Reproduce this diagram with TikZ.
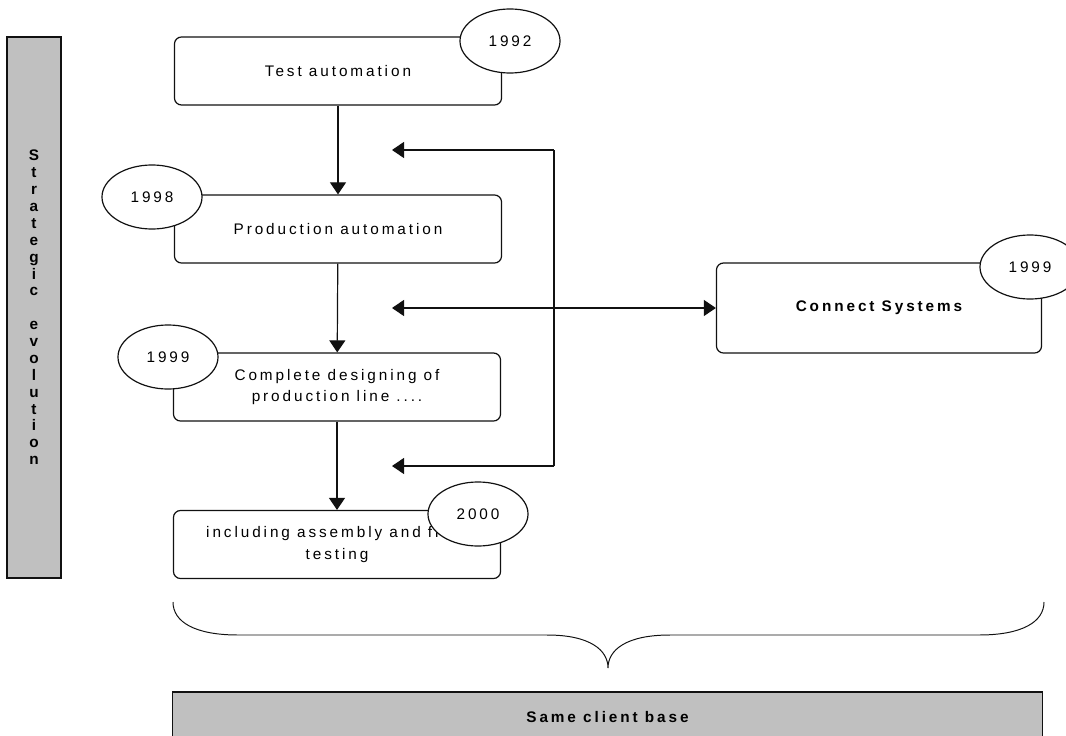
\documentclass[tikz,border=0pt]{standalone}
\usepackage{fontspec}
\setmainfont{Liberation Sans}[LetterSpace=19]
\usepackage{tikz}
\usetikzlibrary{arrows.meta,positioning,shapes.geometric}
\definecolor{bandgray}{HTML}{C0C0C0}
\definecolor{inkline}{HTML}{111111}

\begin{document}
\begin{tikzpicture}[
    x=0.025cm, y=-0.025cm,
    stage/.style={draw=inkline, line width=0.85pt, rounded corners=5pt, fill=white, minimum width=8.175cm, minimum height=1.7cm, align=center, font=\fontsize{10.9}{15}\selectfont},
    year/.style={draw=inkline, line width=0.85pt, ellipse, fill=white, minimum width=2.5cm, minimum height=1.6cm, inner sep=0pt, font=\fontsize{10.9}{13}\selectfont},
    band/.style={draw=inkline, line width=0.85pt, fill=bandgray, align=center, font=\bfseries\fontsize{10.9}{12}\selectfont},
    flow/.style={-{Triangle[length=0.3cm, width=0.4cm]}, line width=0.85pt, color=inkline},
    link/.style={line width=0.85pt, color=inkline}
]
\useasboundingbox (0,0) rectangle (1066,736);

% Side band
\node[band, minimum width=1.35cm, minimum height=13.525cm, inner sep=0pt] (side) at (34,307.5)
  {S\\t\\r\\a\\t\\e\\g\\i\\c\\[12pt]e\\v\\o\\l\\u\\t\\i\\o\\n};

% Stages
\node[stage] (test) at (338,71) {Test automation};
\node[stage] (prod) at (338,229) {Production automation};
\node[stage] (design) at (337,387) {Complete designing of\\production line ....};
\node[stage] (final) at (337,544.5) {including assembly and final\\testing};
\node[stage, minimum width=8.125cm, minimum height=2.25cm, font=\bfseries\fontsize{10.9}{15}\selectfont] (connect) at (879,308) {Connect Systems};

% Years
\node[year] (y92) at (510,41) {1992};
\node[year] (y98) at (152,197) {1998};
\node[year] (y99) at (168,357) {1999};
\node[year] (y00) at (478,514) {2000};
\node[year] (y99c) at (1030,267) {1999};

% Main flow
\draw[flow] (test) -- (prod);
\draw[flow] (prod) -- (design);
\draw[flow] (design) -- (final);

% Feedback loop
\coordinate (fbtop) at (392,150);
\coordinate (fbmid) at (392,308);
\coordinate (fbbot) at (392,466);
\coordinate (loopt) at (554,150);
\coordinate (loopb) at (554,466);
\draw[link] (loopt) -- (loopb);
\draw[flow] (loopt) -- (fbtop);
\draw[flow] (loopb) -- (fbbot);
\draw[flow, {Triangle[length=0.3cm, width=0.4cm]}-{Triangle[length=0.3cm, width=0.4cm]}] (fbmid) -- (connect);

% Brace
\coordinate (brl) at (173,602);
\coordinate (brr) at (1044,602);
\coordinate (brtip) at (608,668);
\draw[link, line width=0.7pt] (brl) .. controls (173,622) and (195,635) .. (238,635) -- (547,635)
  .. controls (590,635) and (608,650) .. (brtip)
  .. controls (608,650) and (626,635) .. (670,635) -- (979,635)
  .. controls (1022,635) and (1044,622) .. (brr);

% Client base
\node[band, minimum width=21.725cm, minimum height=1.25cm] (base) at (607.5,717) {Same client base};

\end{tikzpicture}
\end{document}
